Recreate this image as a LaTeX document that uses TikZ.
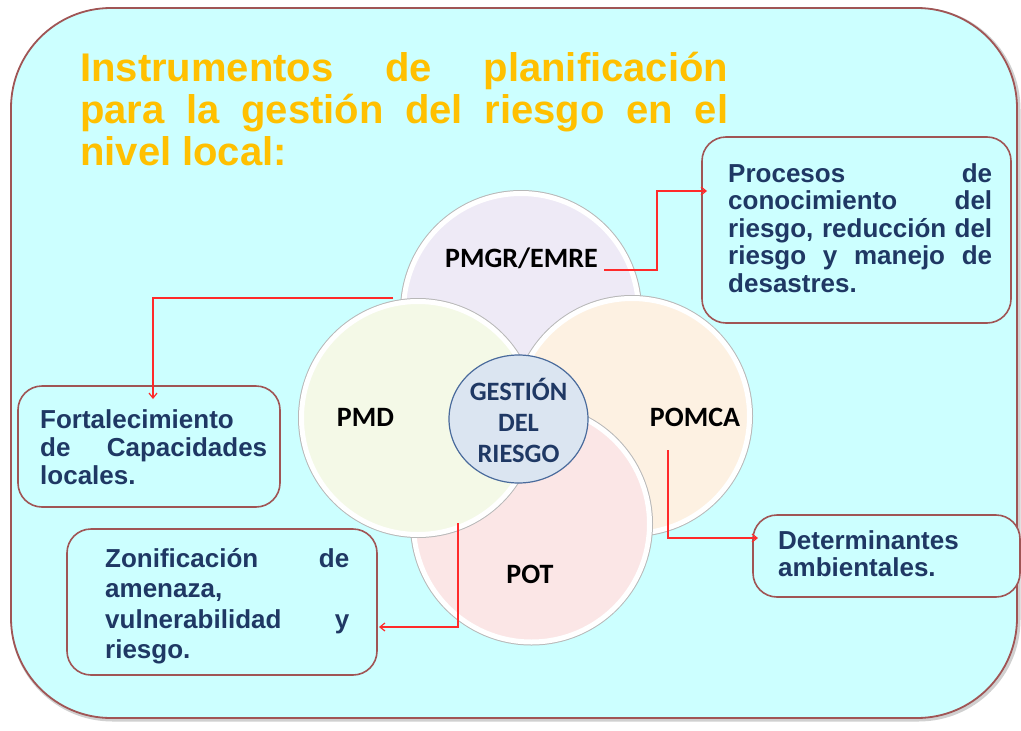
\documentclass[tikz,border=0pt]{standalone}
\usepackage{fontspec}
\setmainfont{Liberation Sans}
\newfontfamily\calfont{Carlito}
\usetikzlibrary{arrows.meta,shapes.geometric}
\definecolor{bgcyan}{HTML}{CCFFFF}
\definecolor{frame}{HTML}{A05555}
\definecolor{titleor}{HTML}{FFC000}
\definecolor{txtblue}{HTML}{1F3864}
\definecolor{cPMGR}{HTML}{EEEAF6}
\definecolor{cPMD}{HTML}{F4F9E7}
\definecolor{cPOMCA}{HTML}{FDF1E2}
\definecolor{cPOT}{HTML}{FBE6E6}
\definecolor{cCenter}{HTML}{DBE5F1}
\definecolor{cCenterB}{HTML}{4A6B9C}
\definecolor{arrowred}{HTML}{FF2A2A}
\definecolor{rimgray}{HTML}{B8B8B8}
\definecolor{shadowgray}{HTML}{D0D0D0}
\begin{document}
\begin{tikzpicture}[x=1pt,y=-1pt,
  bubble/.style={circle, inner sep=0pt, outer sep=0pt, minimum size=#1,
    draw=white, line width=5pt, preaction={draw=rimgray, line width=7pt}},
  rbox/.style={rectangle, rounded corners=24pt, draw=frame, line width=1.6pt,
    fill=bgcyan, inner sep=0pt, outer sep=0pt},
  btext/.style={anchor=north west, inner sep=0pt, align=left, text=txtblue},
  lbl/.style={anchor=base, inner sep=0pt, text=black,
    font=\calfont\bfseries\fontsize{28}{30}\selectfont},
  conn/.style={draw=arrowred, line width=1.2pt,
    -{Straight Barb[length=5pt,width=8pt]}}
]
\useasboundingbox (0,0) rectangle (1021,731);
% outer frame
\node[rectangle, rounded corners=100pt, fill=bgcyan, draw=frame, line width=1.8pt,
  minimum width=1006pt, minimum height=710pt, inner sep=0pt, outer sep=0pt,
  preaction={draw=shadowgray, line width=4pt, transform canvas={shift={(1.5pt,-1.5pt)}}}]
  (outer) at (514,363) {};
% title
\node[anchor=north west, inner sep=0pt, align=left, text=titleor,
  font=\fontsize{40}{42}\selectfont\bfseries] (title) at (80,50.6)
  {\makebox[648pt][s]{\rule{0pt}{0.76em}Instrumentos de planificación}\\
   \makebox[648pt][s]{para la gestión del riesgo en el}\\
   nivel local:};
% circles
\node[bubble=235pt, fill=cPMGR] (pmgr) at (521,311) {};
\node[bubble=235pt, fill=cPOMCA] (pomca) at (632,416) {};
\node[bubble=236pt, fill=cPOT] (pot) at (531.5,524) {};
\node[bubble=233pt, fill=cPMD] (pmd) at (418,418) {};
\node[ellipse, minimum width=139pt, minimum height=128pt, inner sep=0pt,
  fill=cCenter, draw=cCenterB, line width=1.2pt] (center) at (518.5,419) {};
% circle labels
\node[lbl] (lpmgr) at (521.5,267) {PMGR/EMRE};
\node[lbl] (lpmd) at (365.5,426) {PMD};
\node[lbl] (lpomca) at (695,426) {POMCA};
\node[lbl] (lpot) at (530,583) {POT};
\node[anchor=north, inner sep=0pt, align=center, text=txtblue,
  font=\calfont\bfseries\fontsize{26.5}{31}\selectfont] (lcenter) at (518.5,377.5)
  {\rule{0pt}{0.85em}GESTIÓN\\DEL\\RIESGO};
% boxes
\node[rbox, minimum width=309pt, minimum height=186pt] (b1) at (856.5,230) {};
\node[rbox, minimum width=262pt, minimum height=121pt] (b2) at (149,446.5) {};
\node[rbox, minimum width=310pt, minimum height=146pt] (b3) at (222,602) {};
\node[rbox, minimum width=267pt, minimum height=82pt] (b4) at (886.5,556) {};
% box texts
\node[btext, font=\fontsize{26}{27.5}\selectfont\bfseries] (t1) at (728,162.24)
  {\makebox[264pt][s]{\rule{0pt}{0.76em}Procesos de}\\
   \makebox[264pt][s]{conocimiento del}\\
   \makebox[264pt][s]{riesgo, reducción del}\\
   \makebox[264pt][s]{riesgo y manejo de}\\
   desastres.};
\node[btext, font=\fontsize{26}{28}\selectfont\bfseries] (t2) at (40,408.24)
  {\rule{0pt}{0.76em}Fortalecimiento\\
   \makebox[227pt][s]{de Capacidades}\\
   locales.};
\node[btext, font=\fontsize{26}{30.5}\selectfont\bfseries] (t3) at (105,547.24)
  {\makebox[244pt][s]{\rule{0pt}{0.76em}Zonificación de}\\
   amenaza,\\
   \makebox[244pt][s]{vulnerabilidad y}\\
   riesgo.};
\node[btext, font=\fontsize{26}{27}\selectfont\bfseries] (t4) at (778,529.24)
  {\rule{0pt}{0.76em}Determinantes\\
   ambientales.};
% connectors
\coordinate (a1s) at (604,270);
\coordinate (a1t) at (707,191);
\coordinate (a2s) at (393,298);
\coordinate (a2t) at (153,399);
\coordinate (a3s) at (458,523);
\coordinate (a3t) at (379,627);
\coordinate (a4s) at (668,450);
\coordinate (a4t) at (758,538);
\draw[conn] (a1s) -- ++(53,0) |- (a1t);
\draw[conn] (a2s) -| (a2t);
\draw[conn] (a3s) |- (a3t);
\draw[conn] (a4s) |- (a4t);
\end{tikzpicture}
\end{document}
